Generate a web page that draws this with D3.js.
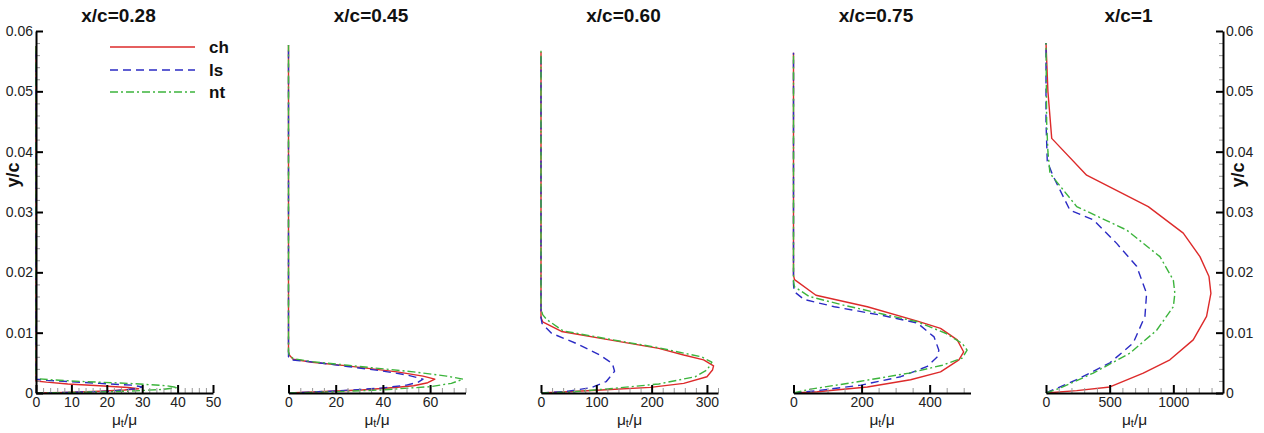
<!DOCTYPE html>
<html><head><meta charset="utf-8">
<script src="https://cdn.jsdelivr.net/npm/d3@7"></script>
<style>
body{margin:0;background:#fff}
svg{display:block}
text{font-family:"Liberation Sans",Arial,Helvetica,sans-serif}
</style>
</head><body>
<svg id="chart" width="1264" height="433"></svg>
<script>
// ---------------- data ----------------
const stations = ["x/c=0.28","x/c=0.45","x/c=0.60","x/c=0.75","x/c=1"];
const xMax = [50, 75, 320, 520, 1390];
const xMajorTicks = [[0,10,20,30,40,50],[0,20,40,60],[0,100,200,300],[0,200,400],[0,500,1000]];
const xMinorStep = [2, 5, 20, 50, 100];
const yMajorTicks = [0, 0.01, 0.02, 0.03, 0.04, 0.05, 0.06];
const yMinorStep = 0.002;
const seriesNames = ["ch", "ls", "nt"];

// [mu_t/mu, y/c] pairs, from the wall upward
const ch028 = [[0,0],[8,0.0001],[18,0.0003],[25,0.0005],[29,0.0007],[26,0.0009],[18,0.0012],[9,0.0015],[3,0.0018],[0,0.002],[0,0.0575]];
const ls028 = [[0,0],[10,0.0001],[21,0.0003],[28,0.0007],[30,0.001],[27,0.0013],[18,0.0016],[9,0.0019],[3,0.0021],[0,0.0023],[0,0.0575]];
const nt028 = [[0,0],[12,0.0001],[26,0.0003],[36,0.0006],[40,0.0009],[37,0.0012],[26,0.0016],[13,0.0019],[4,0.0022],[0,0.0024],[0,0.0575]];

const ch045 = [[0,0],[10,0.00017],[31,0.0005],[45,0.0009],[53,0.0012],[59,0.0017],[62,0.0023],[57,0.0028],[46,0.0035],[25,0.0045],[10,0.0051],[2,0.0056],[0.5,0.0062],[0,0.0068],[0,0.0577]];
const ls045 = [[0,0],[18,0.0003],[39,0.0008],[50,0.0013],[55,0.0018],[57,0.0023],[50,0.003],[39,0.0037],[25,0.0044],[11,0.0051],[1,0.0055],[0,0.006],[0,0.0577]];
const nt045 = [[0,0],[15,0.00015],[39,0.0005],[60,0.00105],[69,0.0016],[74,0.0023],[67,0.0028],[53,0.0035],[25,0.0046],[10,0.0052],[2,0.0057],[0.5,0.0062],[0,0.0068],[0,0.0577]];

const ch060 = [[0,0],[48,0.0002],[109,0.0005],[198,0.00094],[258,0.0016],[300,0.0027],[310,0.0038],[312,0.0045],[294,0.0055],[258,0.0063],[213,0.0074],[124,0.0088],[37,0.0102],[3,0.0118],[0,0.0125],[0,0.0565]];
const ls060 = [[0,0],[49,0.0003],[91,0.0009],[118,0.0019],[133,0.0036],[129,0.0049],[106,0.0063],[64,0.0082],[19,0.0099],[2,0.0115],[0,0.0125],[0,0.0565]];
const nt060 = [[0,0],[50,0.00015],[124,0.0007],[213,0.0015],[279,0.0027],[300,0.0038],[309,0.0051],[290,0.006],[258,0.0066],[213,0.0075],[124,0.0089],[40,0.0103],[10,0.0122],[3,0.013],[0,0.014],[0,0.0568]];

const ch075 = [[0,0],[70,0.0002],[217,0.001],[344,0.0022],[432,0.0035],[486,0.0055],[500,0.0068],[481,0.0088],[432,0.0107],[364,0.0119],[217,0.0143],[66,0.0162],[3,0.0188],[0,0.0195],[0,0.0564]];
const ls075 = [[0,0],[70,0.0004],[198,0.0013],[315,0.0027],[393,0.0044],[423,0.006],[427,0.0071],[413,0.0093],[364,0.0116],[266,0.0128],[120,0.0143],[31,0.0155],[2,0.0168],[0,0.018],[0,0.0564]];
const nt075 = [[0,0],[46,0.0006],[193,0.0019],[339,0.0033],[437,0.0046],[496,0.0058],[510,0.0071],[496,0.0082],[447,0.0099],[364,0.0118],[261,0.0131],[144,0.0146],[46,0.016],[3,0.0176],[0,0.0185],[0,0.0564]];

const ch100 = [[0,0],[241,0.0004],[502,0.001],[764,0.0033],[973,0.0055],[1156,0.0088],[1261,0.0127],[1295,0.0165],[1280,0.0193],[1209,0.0226],[1078,0.0265],[803,0.0309],[319,0.0361],[45,0.0422],[15,0.05],[0,0.058]];
const ls100 = [[0,0],[31,0.0003],[241,0.0022],[502,0.005],[685,0.0083],[777,0.0127],[790,0.0165],[712,0.021],[555,0.0248],[371,0.0287],[188,0.0303],[57,0.0359],[10,0.0384],[0,0.045],[0,0.058]];
const nt100 = [[0,0],[110,0.0008],[371,0.0033],[659,0.0066],[869,0.0104],[1000,0.0143],[1012,0.0165],[1000,0.0187],[895,0.0226],[634,0.027],[241,0.0309],[31,0.0364],[15,0.04],[5,0.045],[0,0.058]];

const panelSeries = [[ch028,ls028,nt028],[ch045,ls045,nt045],[ch060,ls060,nt060],[ch075,ls075,nt075],[ch100,ls100,nt100]];

// ---------------- styles / layout ----------------
const styles = [
  {color:"#dd2a2a", dash:null},
  {color:"#2b2bc4", dash:"8,5"},
  {color:"#3cb43c", dash:"8,3,2,3"}
];
const svg = d3.select("#chart");
const yTop = 31, yBottom = 393, pw = 177, pstep = 252.5, left0 = 36;
const y = d3.scaleLinear().domain([0, 0.06]).range([yBottom, yTop]);
const yFmt = d => d === 0 ? "0" : d3.format(".2f")(d);

panelSeries.forEach((series, i) => {
  const L = left0 + i * pstep;
  const x = d3.scaleLinear().domain([0, xMax[i]]).range([L, L + pw]);
  const g = svg.append("g");

  // curves
  const line = d3.line().x(d => x(d[0])).y(d => y(d[1])).curve(d3.curveLinear);
  series.forEach((s, k) => {
    g.append("path").attr("d", line(s)).attr("fill", "none")
      .attr("stroke", styles[k].color).attr("stroke-width", 1.4)
      .attr("stroke-linejoin", "round")
      .attr("stroke-dasharray", styles[k].dash);
  });

  // x axis minor ticks
  const minor = d3.range(0, xMax[i] + 1e-9, xMinorStep[i]).filter(v => !xMajorTicks[i].includes(v));
  const axMin = g.append("g").attr("transform", `translate(0,${yBottom})`)
    .call(d3.axisBottom(x).tickValues(minor).tickSizeInner(-5).tickSizeOuter(0).tickFormat(""));
  axMin.select(".domain").remove();
  axMin.selectAll("line").attr("stroke", "#999").attr("stroke-width", 1);

  const ax = g.append("g").attr("transform", `translate(0,${yBottom})`)
    .call(d3.axisBottom(x).tickValues(xMajorTicks[i]).tickSizeInner(-8).tickSizeOuter(0)
      .tickPadding(4).tickFormat(d3.format("d")));
  ax.select(".domain").attr("stroke", "#000").attr("stroke-width", 2);
  ax.selectAll("line").attr("stroke", "#000").attr("stroke-width", 2);
  ax.selectAll("text").attr("font-size", 14).attr("fill", "#222")
    .attr("font-family", '"Liberation Sans",Arial,sans-serif');

  // x label
  const xl = g.append("text").attr("x", L + pw / 2).attr("y", 425)
    .attr("text-anchor", "middle").attr("font-size", 15.5).attr("fill", "#222");
  xl.append("tspan").text("μ");
  xl.append("tspan").text("t").attr("font-size", 11).attr("dy", 2);
  xl.append("tspan").text("/μ").attr("dy", -2);

  // title
  g.append("text").attr("x", L + pw / 2 - 6).attr("y", 22).attr("text-anchor", "middle")
    .attr("font-size", 19).attr("font-weight", "bold").attr("fill", "#111").text(stations[i]);

  // y axes
  const yMinor = d3.range(0, 0.06 + 1e-9, yMinorStep).filter(v => Math.abs(Math.round(v * 100) - v * 100) > 1e-6);
  if (i === 0 || i === 4) {
    const isLeft = i === 0;
    const xp = isLeft ? L : L + pw;
    const axisFn = isLeft ? d3.axisLeft : d3.axisRight;
    const ym = g.append("g").attr("transform", `translate(${xp},0)`)
      .call(axisFn(y).tickValues(yMinor).tickSizeInner(-4).tickSizeOuter(0).tickFormat(""));
    ym.select(".domain").remove();
    ym.selectAll("line").attr("stroke", "#999").attr("stroke-width", 1);
    const ya = g.append("g").attr("transform", `translate(${xp},0)`)
      .call(axisFn(y).tickValues(yMajorTicks).tickSizeInner(-7).tickSizeOuter(0).tickPadding(3).tickFormat(yFmt));
    ya.select(".domain").attr("stroke", "#000").attr("stroke-width", 2);
    ya.selectAll("line").attr("stroke", "#000").attr("stroke-width", 2);
    ya.selectAll("text").attr("font-size", 14).attr("fill", "#222")
      .attr("font-family", '"Liberation Sans",Arial,sans-serif');
    const lx = isLeft ? 13 : 1238;
    g.append("text").attr("transform", `translate(${lx},175) rotate(-90)`)
      .attr("text-anchor", "middle").attr("dominant-baseline", "central")
      .attr("font-size", 18).attr("font-weight", "bold").attr("fill", "#111").text("y/c");
  }
});

// legend
const legY = [47, 70, 92];
seriesNames.forEach((n, k) => {
  svg.append("line").attr("x1", 110).attr("x2", 195).attr("y1", legY[k]).attr("y2", legY[k])
    .attr("stroke", styles[k].color).attr("stroke-width", 1.4).attr("stroke-dasharray", styles[k].dash);
  svg.append("text").attr("x", 209).attr("y", legY[k] + 6).attr("font-size", 17)
    .attr("font-weight", "bold").attr("fill", "#111").text(n);
});
</script>
</body></html>
